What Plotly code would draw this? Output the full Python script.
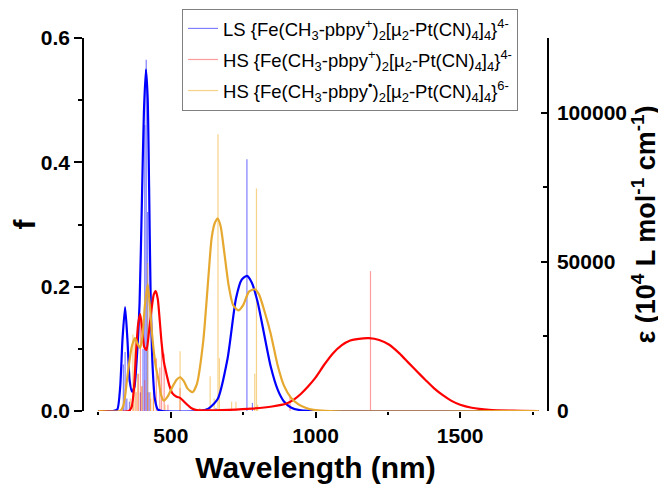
import plotly.graph_objects as go

# ---------------- data ----------------
# Broadened spectra (epsilon, right axis): wavelength nm / epsilon
ls_curve_nm = [250, 300, 315, 325, 333, 342, 350, 358, 366, 374, 382, 392, 400, 407, 414, 420, 425, 430, 437, 445, 455, 470,
               600, 630, 662, 696, 725, 745, 763, 780, 800, 820, 845, 870, 891, 915, 945, 980, 1020, 1770]
ls_curve_eps = [0, 0, 500, 8000, 24000, 34800, 24000, 10000, 6500, 8000, 17000, 36000, 70000, 100000, 114500, 105000, 75000, 40000, 15000, 4000, 500, 0,
                0, 800, 4000, 17500, 37600, 44000, 45300, 43000, 36500, 27000, 15000, 7000, 3200, 1200, 300, 50, 0, 0]

hs_curve_nm = [250, 355, 365, 373, 380, 387, 394, 401, 408, 416, 425, 434, 441, 448, 455, 462, 468, 476, 486, 495, 505, 520, 532,
               545, 558, 570, 590, 620, 700, 780, 850, 900, 925, 950, 975, 1000, 1030, 1060, 1090, 1120, 1150, 1185, 1220, 1255,
               1290, 1320, 1350, 1380, 1410, 1440, 1470, 1500, 1540, 1600, 1680, 1770]
hs_curve_eps = [0, 0, 1500, 8000, 20000, 29000, 32500, 28000, 21500, 20500, 27000, 34500, 39000, 40200, 37500, 30000, 23000, 16500, 12000, 8500, 6000, 4800, 4400,
                3200, 2000, 1000, 300, 200, 400, 800, 1500, 2500, 3800, 5800, 8300, 11200, 15500, 19300, 22000, 23600, 24200, 24400, 23800, 22200,
                19300, 16300, 13300, 10400, 7600, 5300, 3400, 2100, 1100, 400, 100, 0]

hsr_curve_nm = [250, 325, 335, 342, 348, 356, 365, 376, 385, 394, 402, 410, 420, 427, 435, 440, 448, 457, 466, 476, 490, 505, 520, 532,
                545, 558, 575, 590, 612, 630, 641, 652, 662, 672, 685, 700, 715, 733, 750, 770, 790, 805, 825, 845, 870, 891, 915, 940, 970, 1000, 1050, 1770]
hsr_curve_eps = [0, 0, 1500, 5000, 10000, 16000, 21500, 24400, 22500, 21100, 25000, 35000, 42500, 36000, 26000, 21000, 15000, 10700, 5500, 3500, 5000, 8000, 10500, 11300,
                 10000, 7500, 6300, 9000, 23300, 45000, 57900, 63000, 64500, 62000, 53000, 42000, 35500, 33700, 35500, 40000, 40800, 39000, 33000, 26000, 15000, 8500, 4500, 2300, 900, 300, 0, 0]

# Oscillator strengths (sticks, left axis)
ls_stick_nm = [336, 342, 348, 357, 395, 404, 410, 415, 420, 425, 656, 763, 782]
ls_stick_f = [0.075, 0.095, 0.02, 0.015, 0.03, 0.10, 0.46, 0.565, 0.32, 0.03, 0.005, 0.405, 0.013]

hs_stick_nm = [370, 380, 388, 395, 400, 410, 420, 430, 440, 450, 462, 468, 477, 490, 532, 912, 1190]
hs_stick_f = [0.01, 0.03, 0.06, 0.155, 0.04, 0.05, 0.03, 0.02, 0.045, 0.085, 0.07, 0.104, 0.092, 0.01, 0.037, 0.025, 0.225]

hsr_stick_nm = [360, 369, 376, 385, 400, 420, 430, 440, 480, 532, 600, 636, 650, 663, 668, 710, 725, 790, 796, 800]
hsr_stick_f = [0.02, 0.123, 0.115, 0.06, 0.04, 0.238, 0.03, 0.02, 0.01, 0.096, 0.005, 0.056, 0.02, 0.445, 0.085, 0.015, 0.015, 0.06, 0.358, 0.01]

names = [
    "LS {Fe(CH<sub>3</sub>-pbpy<sup>+</sup>)<sub>2</sub>[µ<sub>2</sub>-Pt(CN)<sub>4</sub>]<sub>4</sub>}<sup>4-</sup>",
    "HS {Fe(CH<sub>3</sub>-pbpy<sup>+</sup>)<sub>2</sub>[µ<sub>2</sub>-Pt(CN)<sub>4</sub>]<sub>4</sub>}<sup>4-</sup>",
    "HS {Fe(CH<sub>3</sub>-pbpy<sup>•</sup>)<sub>2</sub>[µ<sub>2</sub>-Pt(CN)<sub>4</sub>]<sub>4</sub>}<sup>6-</sup>",
]
curve_colors = ["#0000FF", "#FF0000", "#E6A82E"]
stick_colors = ["rgba(40,40,255,0.6)", "rgba(255,60,60,0.5)", "rgba(240,175,40,0.55)"]

FONT = "Liberation Sans, Arial, sans-serif"


def stick_xy(nm, f):
    xs, ys = [], []
    for a, b in zip(nm, f):
        xs += [a, a, None]
        ys += [0, b, None]
    return xs, ys


fig = go.Figure()

sticks = [(ls_stick_nm, ls_stick_f), (hs_stick_nm, hs_stick_f), (hsr_stick_nm, hsr_stick_f)]
curves = [(ls_curve_nm, ls_curve_eps), (hs_curve_nm, hs_curve_eps), (hsr_curve_nm, hsr_curve_eps)]

for i, (nm, f) in enumerate(sticks):
    xs, ys = stick_xy(nm, f)
    fig.add_trace(go.Scatter(x=xs, y=ys, mode="lines", name=names[i], legendgroup="g%d" % i,
                             line=dict(color=stick_colors[i], width=1.2),
                             yaxis="y", showlegend=True, hoverinfo="skip"))

for i, (nm, e) in enumerate(curves):
    fig.add_trace(go.Scatter(x=nm, y=e, mode="lines", legendgroup="g%d" % i,
                             line=dict(color=curve_colors[i], width=2.2, shape="spline", smoothing=0.6),
                             yaxis="y2", showlegend=False))

fig.update_layout(
    width=666, height=485,
    margin=dict(l=76, r=127, t=30, b=82, autoexpand=False),
    paper_bgcolor="white", plot_bgcolor="white",
    font=dict(family=FONT, color="black"),
    showlegend=True,
    legend=dict(x=0.2117, y=1.078, xanchor="left", yanchor="top",
                bgcolor="white", bordercolor="#808080", borderwidth=1,
                font=dict(size=18.5, family=FONT, color="black"),
                tracegroupgap=4, itemwidth=30),
    xaxis=dict(range=[200, 1800], tick0=0, dtick=500, ticks="outside", ticklen=6, tickwidth=1.5,
               tickcolor="black", showline=False, showgrid=False, zeroline=False,
               tickfont=dict(size=21, family=FONT, weight="bold"),
               minor=dict(dtick=250, ticks="outside", ticklen=3, tickwidth=1.5, tickcolor="black", showgrid=False),
               title=dict(text="Wavelength (nm)", font=dict(size=30, family=FONT, weight="bold"), standoff=10),
               automargin=False),
    yaxis=dict(range=[0, 0.6], dtick=0.2, tickformat=".1f", ticks="outside", ticklen=8, tickwidth=1.5,
               tickcolor="black", showline=True, linecolor="black", linewidth=1.5, showgrid=False, zeroline=False,
               tickfont=dict(size=21, family=FONT, weight="bold"),
               minor=dict(dtick=0.1, ticks="outside", ticklen=4, tickwidth=1.5, tickcolor="black", showgrid=False),
               title=dict(text="f", font=dict(size=30, family=FONT, weight="bold"), standoff=22),
               automargin=False),
    yaxis2=dict(range=[0, 125000], dtick=50000, tickformat="d", overlaying="y", side="right",
                ticks="inside", ticklen=6, tickwidth=1.5, tickcolor="black",
                showline=True, linecolor="black", linewidth=1.5, showgrid=False, zeroline=False,
                tickfont=dict(size=21, family=FONT, weight="bold"),
                minor=dict(dtick=25000, ticks="inside", ticklen=4, tickwidth=1.5, tickcolor="black", showgrid=False),
                title=dict(text="ε (10<sup>4</sup> L mol<sup>-1</sup> cm<sup>-1</sup>)",
                           font=dict(size=27, family=FONT, weight="bold"), standoff=6),
                ticklabelstandoff=4,
                automargin=False),
)

fig.write_html("out.html")
